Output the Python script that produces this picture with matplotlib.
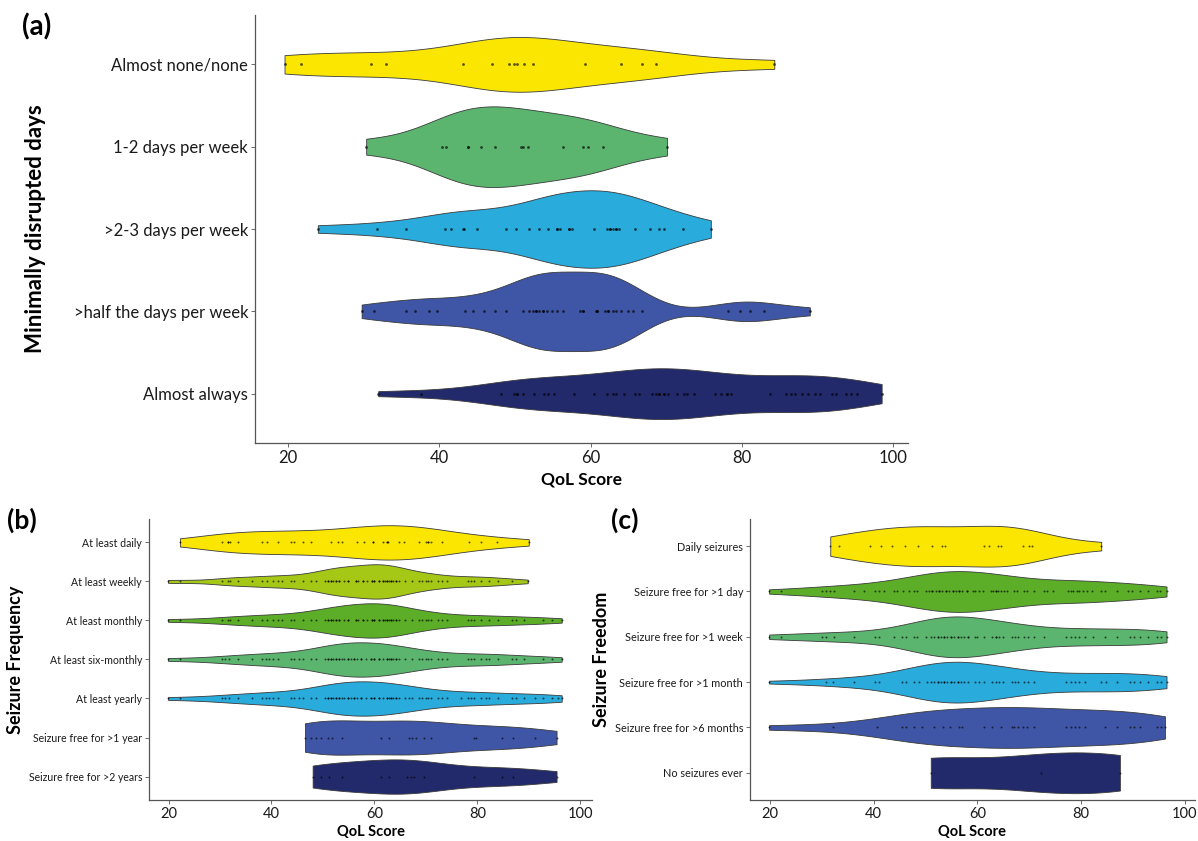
import numpy as np
import matplotlib
matplotlib.use("Agg")
import matplotlib.pyplot as plt

plt.rcParams['font.family'] = ['Lato', 'DejaVu Sans']

# ---------------- panel (a): minimally disrupted days ----------------
cats_a = ['Almost none/none', '1-2 days per week', '>2-3 days per week',
          '>half the days per week', 'Almost always']
none_a = [19.5, 21.7, 31.0, 32.9, 43.1, 47.0, 49.2, 49.8, 50.2, 51.2, 52.4,
          59.2, 64.0, 66.8, 68.6, 84.3]
days12_a = [30.3, 40.3, 40.8, 43.8, 43.8, 45.5, 47.3, 50.8, 51.0, 51.7, 56.4,
            59.0, 59.6, 61.6, 70.1]
days23_a = [23.9, 31.7, 35.6, 40.7, 41.5, 43.1, 43.3, 45.0, 48.8, 50.1, 51.8,
            53.2, 54.3, 55.6, 55.6, 56.0, 57.1, 57.1, 57.5, 60.4, 62.1, 62.5,
            62.5, 62.9, 63.3, 63.3, 63.8, 65.9, 67.9, 69.0, 69.7, 72.2, 75.9]
half_a = [29.7, 31.3, 35.6, 36.8, 38.6, 39.7, 43.4, 44.5, 45.9, 47.4, 48.8,
          51.0, 51.8, 52.4, 52.8, 52.8, 53.2, 53.7, 53.7, 54.2, 54.9, 55.5,
          56.4, 58.6, 59.0, 59.0, 60.7, 60.9, 60.9, 61.9, 62.3, 62.3, 62.9,
          63.4, 64.0, 65.0, 65.6, 66.8, 78.2, 79.7, 81.1, 82.9, 89.0]
always_a = [31.9, 37.6, 48.1, 49.8, 50.3, 50.3, 51.0, 52.5, 53.8, 54.3, 55.1,
            57.8, 60.5, 62.1, 62.9, 63.4, 64.4, 65.9, 66.4, 68.1, 68.7, 69.1,
            69.1, 69.7, 69.7, 70.2, 71.4, 72.3, 72.8, 73.7, 76.4, 77.2, 78.0,
            78.0, 78.6, 83.7, 85.8, 86.5, 87.0, 88.0, 88.8, 89.7, 90.3, 91.9,
            92.4, 93.8, 94.4, 95.2, 98.5]

# ---------------- panel (b): seizure frequency ----------------
cats_b = ['At least daily', 'At least weekly', 'At least monthly',
          'At least six-monthly', 'At least yearly',
          'Seizure free for >1 year', 'Seizure free for >2 years']
daily_b = [22.2, 30.3, 31.6, 31.6, 32.0, 33.4, 38.1, 39.2, 41.3, 43.8, 44.4,
           46.1, 47.6, 51.5, 53.0, 53.7, 56.7, 58.0, 59.8, 59.8, 61.6, 62.4,
           62.4, 62.7, 64.7, 65.8, 68.7, 70.0, 70.5, 70.5, 71.0, 73.1, 78.4,
           80.7, 83.9, 90.0]
weekly_b = [19.9, 22.2, 30.3, 31.6, 32.0, 33.4, 36.3, 38.1, 39.2, 40.2, 41.2,
            42.1, 43.8, 44.4, 46.2, 47.6, 48.6, 50.4, 50.9, 50.9, 51.5, 51.5,
            52.0, 52.5, 52.5, 53.2, 53.2, 54.1, 54.8, 54.8, 56.4, 56.4, 56.9,
            57.7, 57.7, 58.5, 59.5, 59.5, 60.0, 60.0, 60.8, 60.8, 61.6, 61.6,
            62.1, 62.4, 62.4, 62.8, 63.2, 63.2, 63.7, 64.2, 64.2, 64.8, 66.0,
            67.4, 68.6, 69.2, 70.0, 70.5, 71.0, 72.3, 73.1, 74.2, 78.1, 78.8,
            79.4, 80.7, 82.3, 84.0, 86.7, 89.8]
monthly_b = [19.9, 22.2, 30.3, 31.6, 32.0, 33.4, 36.3, 38.1, 39.2, 40.2, 41.2,
             42.1, 43.8, 44.4, 46.2, 47.6, 48.6, 50.4, 50.9, 50.9, 51.5, 51.5,
             52.0, 52.5, 52.5, 53.2, 53.2, 54.1, 54.8, 54.8, 56.4, 56.4, 56.9,
             57.7, 57.7, 58.5, 59.5, 59.5, 60.0, 60.0, 60.8, 60.8, 61.6, 61.6,
             62.1, 62.4, 62.4, 62.8, 63.2, 63.2, 63.7, 64.2, 64.2, 64.8, 66.0,
             67.4, 68.6, 69.2, 70.0, 70.5, 71.0, 72.3, 73.1, 74.2, 78.1, 78.8,
             79.4, 80.7, 82.3, 84.0, 86.7, 87.5, 89.1, 92.7, 94.6, 96.4]
sixmonthly_b = [19.9, 22.2, 30.3, 30.9, 31.7, 33.4, 36.3, 38.1, 38.9, 39.5,
                40.2, 41.2, 43.8, 44.4, 45.4, 46.2, 47.6, 48.6, 50.4, 50.9,
                50.9, 51.5, 51.5, 52.0, 52.5, 52.5, 53.2, 53.2, 53.7, 54.1,
                54.8, 54.8, 55.4, 56.1, 56.1, 56.7, 57.4, 57.4, 58.3, 59.3,
                59.3, 60.0, 60.0, 60.8, 60.8, 61.6, 62.4, 62.4, 62.8, 63.2,
                63.2, 63.7, 64.2, 64.2, 64.8, 66.0, 67.4, 68.6, 69.2, 70.0,
                70.5, 71.0, 72.3, 73.1, 74.2, 78.1, 78.8, 79.4, 80.7, 81.7,
                82.3, 84.0, 86.7, 87.5, 89.1, 92.7, 94.6, 96.4]
yearly_b = [19.9, 22.2, 30.3, 30.9, 31.7, 33.4, 36.3, 38.1, 38.9, 39.5, 40.2,
            41.2, 43.8, 44.4, 45.4, 46.2, 47.6, 48.6, 50.4, 50.9, 50.9, 51.5,
            51.5, 52.0, 52.5, 52.5, 53.2, 53.2, 53.7, 54.1, 54.8, 54.8, 55.4,
            56.1, 56.1, 56.7, 57.4, 57.4, 58.3, 59.3, 59.3, 60.0, 60.0, 60.8,
            60.8, 61.6, 62.4, 62.4, 62.8, 63.2, 63.2, 63.7, 64.2, 64.2, 64.8,
            66.0, 66.8, 67.4, 68.6, 69.2, 70.0, 70.5, 71.0, 72.3, 73.1, 74.2,
            76.8, 78.1, 78.8, 79.4, 80.7, 81.7, 82.3, 84.0, 86.7, 87.5, 89.1,
            91.2, 92.7, 94.6, 95.6, 96.4]
free1y_b = [46.5, 47.6, 48.6, 49.6, 50.9, 51.7, 53.8, 61.3, 62.8, 66.8, 67.4,
            68.1, 69.7, 71.0, 79.4, 79.7, 84.8, 86.9, 91.3, 95.4]
free2y_b = [48.0, 49.6, 51.1, 53.8, 61.3, 62.8, 66.4, 67.1, 67.7, 69.7, 79.4,
            84.8, 86.9, 95.4]

# ---------------- panel (c): seizure freedom ----------------
cats_c = ['Daily seizures', 'Seizure free for >1 day', 'Seizure free for >1 week',
          'Seizure free for >1 month', 'Seizure free for >6 months',
          'No seizures ever']
daily_c = [31.6, 33.2, 39.2, 41.3, 43.6, 46.0, 48.6, 51.3, 53.1, 53.8, 61.2,
           62.3, 64.0, 64.6, 68.8, 69.9, 70.6, 83.9]
day_c = [19.8, 22.1, 30.0, 30.8, 31.6, 32.3, 36.1, 38.1, 40.3, 41.0, 42.0,
         43.9, 44.5, 45.7, 46.8, 47.8, 48.4, 50.0, 50.7, 51.3, 51.3, 52.0,
         52.6, 52.6, 53.2, 53.9, 53.9, 54.5, 55.2, 55.2, 55.8, 56.5, 56.5,
         57.1, 58.0, 58.0, 59.1, 59.5, 60.4, 61.0, 62.6, 63.1, 63.6, 63.6,
         64.0, 64.6, 65.1, 65.7, 67.1, 67.7, 68.9, 69.6, 70.9, 72.8, 73.5,
         74.6, 77.5, 78.0, 78.4, 79.3, 79.7, 80.4, 81.2, 82.1, 83.8, 84.7,
         87.0, 89.1, 89.9, 91.3, 93.0, 94.6, 95.2, 96.5]
week_c = [19.8, 22.1, 30.0, 30.8, 32.3, 36.1, 40.3, 41.0, 43.9, 45.5, 46.3,
          47.8, 48.4, 50.0, 51.0, 51.6, 52.3, 52.3, 52.9, 53.6, 53.6, 54.2,
          54.9, 54.9, 55.5, 56.2, 56.2, 56.8, 57.5, 58.1, 58.1, 59.5, 60.0,
          61.2, 62.9, 63.6, 63.6, 64.2, 64.9, 66.6, 67.3, 67.8, 68.9, 69.7,
          70.9, 72.8, 77.1, 78.0, 78.8, 79.7, 80.7, 82.3, 84.7, 87.0, 89.4,
          90.2, 91.3, 93.0, 94.6, 95.4, 96.5]
month_c = [19.8, 30.7, 32.1, 36.1, 40.3, 41.0, 45.5, 46.3, 47.8, 48.7, 50.2,
           51.0, 51.6, 52.3, 52.3, 52.9, 53.6, 53.6, 54.2, 54.9, 54.9, 55.5,
           56.2, 56.2, 56.8, 57.5, 58.1, 59.5, 60.4, 61.2, 62.9, 63.6, 64.2,
           64.9, 66.6, 67.3, 67.8, 68.9, 69.7, 70.9, 77.1, 78.0, 78.8, 79.7,
           80.7, 83.9, 84.9, 87.0, 89.4, 90.2, 91.3, 93.0, 94.6, 95.4, 96.5]
month6_c = [19.8, 32.1, 40.7, 45.5, 46.3, 47.8, 49.4, 51.6, 53.4, 54.7, 56.5,
            57.1, 61.2, 62.9, 64.6, 66.6, 67.1, 67.8, 68.8, 69.6, 70.9, 77.1,
            78.0, 78.8, 79.7, 80.7, 84.7, 87.0, 89.4, 90.2, 91.3, 94.6, 95.4,
            96.2]
never_c = [51.0, 72.2, 87.5]

YELLOW = '#FAE600'
LIME = '#A5C716'
GREEN = '#5CAE28'
MGREEN = '#5CB56E'
CYAN = '#29ABDC'
BLUE = '#3F56A6'
NAVY = '#232A6B'


def density(vals, grid):
    # gaussian kernel, Silverman rule-of-thumb bandwidth (like R's nrd0)
    vals = np.asarray(vals, dtype=float)
    n = len(vals)
    sd = np.std(vals, ddof=1)
    iqr = np.subtract(*np.percentile(vals, [75, 25]))
    bw = 0.9 * min(sd, iqr / 1.34) * n ** -0.2
    z = (grid[:, None] - vals[None, :]) / bw
    return np.exp(-0.5 * z ** 2).sum(axis=1) / (n * bw * np.sqrt(2 * np.pi))


def violin_panel(ax, cats, groups, colors, xlim, dot_size, lab_size,
                 scale='area', width=0.9):
    n = len(cats)
    grids, dens = [], []
    for g in groups:
        grid = np.linspace(min(g), max(g), 512)
        grids.append(grid)
        dens.append(density(g, grid))
    dmax = max(d.max() for d in dens)
    for i, (g, grid, d, col) in enumerate(zip(groups, grids, dens, colors)):
        y = n - i
        if scale == 'width':
            w = d / d.max() * width / 2
        else:
            w = d / dmax * width / 2
        ax.fill_between(grid, y - w, y + w, facecolor=col, edgecolor='#3a3a3a',
                        linewidth=0.6, zorder=2)
        ax.scatter(g, np.full(len(g), y), s=dot_size, color='black', alpha=0.65,
                   linewidths=0, zorder=3)
    ax.set_ylim(0.4, n + 0.6)
    ax.set_xlim(*xlim)
    ax.set_yticks(np.arange(n, 0, -1))
    ax.set_yticklabels(cats, fontsize=lab_size, color='#1a1a1a')
    ax.set_xticks([20, 40, 60, 80, 100])
    for s in ['top', 'right']:
        ax.spines[s].set_visible(False)
    for s in ['left', 'bottom']:
        ax.spines[s].set_color('#555555')
        ax.spines[s].set_linewidth(0.9)
    ax.tick_params(length=3, width=0.6, color='#555555', pad=2)


fig = plt.figure(figsize=(11.98, 8.41), dpi=100)

ax_a = fig.add_axes([0.2129, 0.4732, 0.5451, 0.5090])
violin_panel(ax_a, cats_a, [none_a, days12_a, days23_a, half_a, always_a],
             [YELLOW, MGREEN, CYAN, BLUE, NAVY], (15.6, 102.0), 4, 12,
             scale='area', width=0.98)
ax_a.tick_params(axis='x', labelsize=12, labelcolor='#1a1a1a')
ax_a.set_xlabel('QoL Score', fontsize=12.5, fontweight='bold', labelpad=4)
ax_a.set_ylabel('Minimally disrupted days', fontsize=16, fontweight='bold',
                labelpad=20)

ax_b = fig.add_axes([0.1244, 0.0488, 0.3698, 0.3341])
violin_panel(ax_b, cats_b,
             [daily_b, weekly_b, monthly_b, sixmonthly_b, yearly_b, free1y_b, free2y_b],
             [YELLOW, LIME, GREEN, MGREEN, CYAN, BLUE, NAVY], (16.2, 102.3), 2, 7.6,
             scale='width', width=0.88)
ax_b.tick_params(axis='x', labelsize=10.5, labelcolor='#1a1a1a')
ax_b.set_xlabel('QoL Score', fontsize=10.5, fontweight='bold', labelpad=3)
ax_b.set_ylabel('Seizure Frequency', fontsize=13, fontweight='bold', labelpad=3)

ax_c = fig.add_axes([0.6260, 0.0488, 0.3715, 0.3341])
violin_panel(ax_c, cats_c, [daily_c, day_c, week_c, month_c, month6_c, never_c],
             [YELLOW, GREEN, MGREEN, CYAN, BLUE, NAVY], (16.1, 102.0), 2, 7.8,
             scale='width', width=0.9)
ax_c.tick_params(axis='x', labelsize=10.5, labelcolor='#1a1a1a')
ax_c.set_xlabel('QoL Score', fontsize=10.5, fontweight='bold', labelpad=3)
ax_c.set_ylabel('Seizure Freedom', fontsize=13, fontweight='bold', labelpad=3)

fig.text(0.018, 0.968, '(a)', fontsize=20, fontweight='bold', va='center')
fig.text(0.006, 0.381, '(b)', fontsize=19, fontweight='bold', va='center')
fig.text(0.510, 0.381, '(c)', fontsize=19, fontweight='bold', va='center')

fig.savefig('out.png', dpi=100)
